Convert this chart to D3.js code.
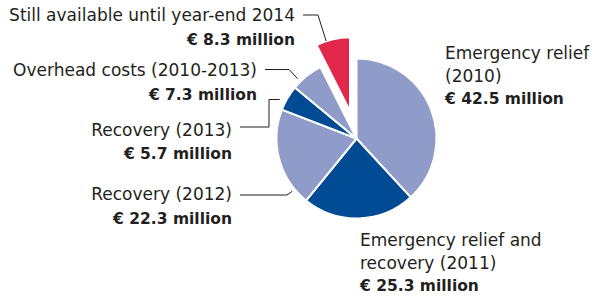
<!DOCTYPE html>
<html>
<head>
<meta charset="utf-8">
<script src="https://cdn.jsdelivr.net/npm/d3@7"></script>
<style>
  body { margin: 0; background: #fff; }
  .label { font-family: "DejaVu Sans", sans-serif; font-size: 17px; fill: #231f20; }
  .amount { font-family: "DejaVu Sans", sans-serif; font-size: 15.5px; font-weight: bold; fill: #231f20; }
  .leader { fill: none; stroke: #231f20; stroke-width: 1; }
</style>
</head>
<body>
<div class="container"></div>
<script>
const WIDTH = 603;
const HEIGHT = 298;
const CX = 356.5;
const CY = 138.5;
const RADIUS = 80;

// data
var categories = ["Emergency relief (2010)", "Emergency relief and recovery (2011)", "Recovery (2012)",
  "Recovery (2013)", "Overhead costs (2010-2013)", "Still available until year-end 2014"];
var values = [42.5, 25.3, 22.3, 5.7, 7.3, 8.3];
var labelLines = [["Emergency relief", "(2010)"], ["Emergency relief and", "recovery (2011)"], ["Recovery (2012)"],
  ["Recovery (2013)"], ["Overhead costs (2010-2013)"], ["Still available until year-end 2014"]];
var colors = ["#8f9bc9", "#004b93", "#8f9bc9", "#004b93", "#8f9bc9", "#e2284a"];

// layout of labels: anchor, position, line height, leader elbows, where the leader hits the slice
var labelLayout = [
  { anchor: "start", x: 445, y: 59, lh: 22.5, leader: null },
  { anchor: "start", x: 360, y: 246, lh: 22.5, leader: null },
  { anchor: "end", x: 232, y: 200, lh: 24, leader: [[240, 195], [287, 195]], hit: 0.16, hitR: 83 },
  { anchor: "end", x: 232, y: 136, lh: 23, leader: [[240, 127], [269, 127], [269, 99.5]], hit: 0.3, hitR: 86 },
  { anchor: "end", x: 257, y: 75.5, lh: 24.5, leader: [[265, 69.5], [289, 69.5]], hit: 0.25, hitR: 84 },
  { anchor: "end", x: 295, y: 21, lh: 24, leader: [[303, 15], [318, 15]], hit: 0.3, hitR: 74 }
];

const EXPLODE = 28;
const RED_RADIUS = 74;

var translate = function (x, y) {
  return "translate(" + x + "," + y + ")";
};

var svg = d3.select('.container').append('svg')
  .attr('width', WIDTH)
  .attr('height', HEIGHT);

var pie = d3.pie().sort(null).value(function (d) { return d; });
var arcs = pie(values);

var arc = d3.arc().innerRadius(0).outerRadius(RADIUS);
var redArc = d3.arc().innerRadius(0).outerRadius(RED_RADIUS);

var isExploded = function (i) { return i === values.length - 1; };

var offsetOf = function (d, i) {
  if (!isExploded(i)) return [0, 0];
  var mid = (d.startAngle + d.endAngle) / 2;
  return [Math.sin(mid) * EXPLODE, -Math.cos(mid) * EXPLODE];
};

var g = svg.append('g').attr('transform', translate(CX, CY));

g.selectAll('path.slice').data(arcs)
  .enter().append('path')
  .classed('slice', true)
  .attr('transform', function (d, i) { var o = offsetOf(d, i); return translate(o[0], o[1]); })
  .attr('d', function (d, i) { return isExploded(i) ? redArc(d) : arc(d); })
  .attr('fill', function (d, i) { return colors[i]; })
  .attr('stroke', '#fff')
  .attr('stroke-width', 2)
  .attr('stroke-linejoin', 'round');

// leaders
arcs.forEach(function (d, i) {
  var lay = labelLayout[i];
  if (!lay.leader) return;
  var o = offsetOf(d, i);
  var a = d.startAngle + (d.endAngle - d.startAngle) * lay.hit;
  var end = [CX + o[0] + Math.sin(a) * lay.hitR, CY + o[1] - Math.cos(a) * lay.hitR];
  var pts = lay.leader.slice();
  if (pts.length === 3) end[1] = pts[2][1];
  pts.push(end);
  svg.append('path')
    .classed('leader', true)
    .attr('d', d3.line()(pts));
});

// labels
categories.forEach(function (c, i) {
  var lay = labelLayout[i];
  var t = svg.append('g');
  labelLines[i].forEach(function (line, k) {
    t.append('text')
      .classed('label', true)
      .attr('x', lay.x)
      .attr('y', lay.y + k * lay.lh)
      .attr('text-anchor', lay.anchor)
      .text(line);
  });
  t.append('text')
    .classed('amount', true)
    .attr('x', lay.x)
    .attr('y', lay.y + labelLines[i].length * lay.lh)
    .attr('text-anchor', lay.anchor)
    .text('€ ' + values[i] + ' million');
});
</script>
</body>
</html>
